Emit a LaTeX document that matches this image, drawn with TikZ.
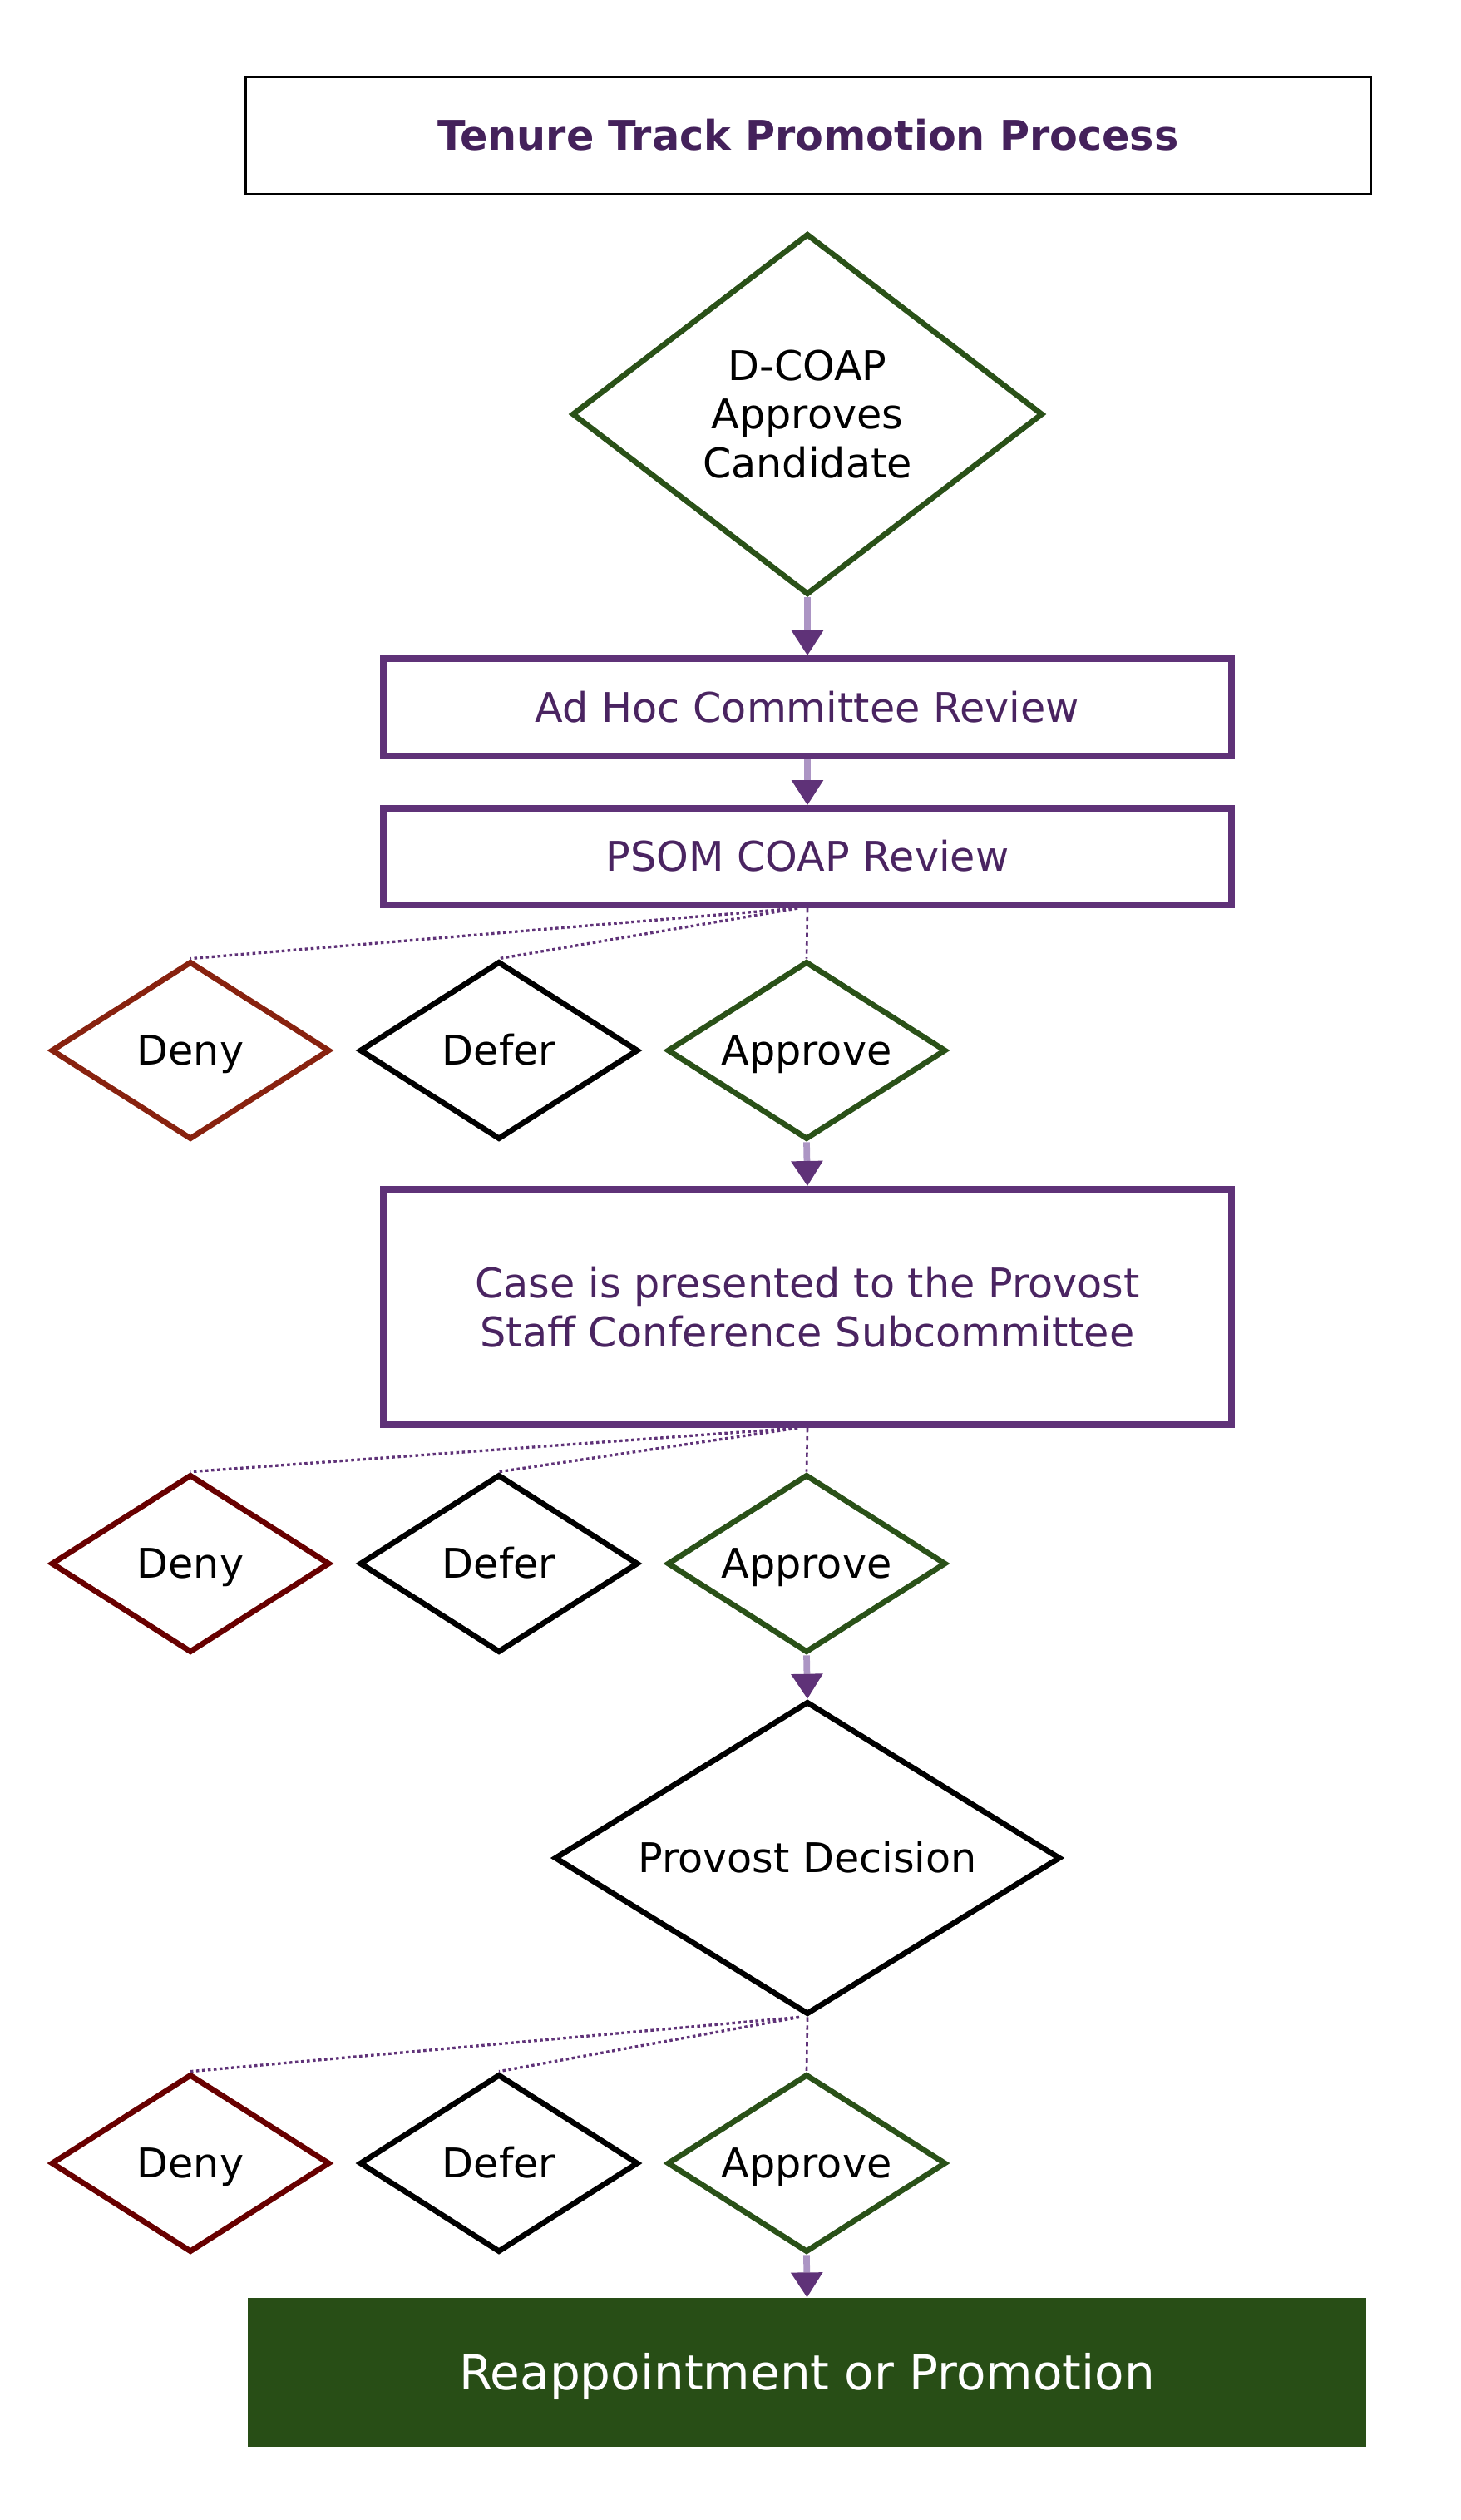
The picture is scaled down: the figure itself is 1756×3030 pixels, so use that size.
\documentclass[tikz,border=0pt]{standalone}
\usepackage{fontspec}
\setmainfont{DejaVu Sans}
\usetikzlibrary{shapes.geometric,arrows.meta,calc}
\definecolor{pur}{HTML}{5F3278}
\definecolor{purtext}{HTML}{4A2461}
\definecolor{titlepur}{HTML}{44215B}
\definecolor{purlight}{HTML}{AC95C4}
\definecolor{grn}{HTML}{2A5118}
\definecolor{grnfill}{HTML}{284E16}
\definecolor{rust}{HTML}{88220F}
\definecolor{darkmaroon}{HTML}{680000}
\begin{document}
\begin{tikzpicture}[x=0.01cm,y=-0.01cm,
  every node/.style={font=\fontsize{14pt}{16.6pt}\selectfont, align=center},
  oneline/.style={text height=10.2pt, text depth=0pt},
  dia/.style={diamond, draw, line width=1.9pt, inner sep=0pt, aspect=1.5, fill=white},
  smalldia/.style={dia, oneline, minimum width=3.35cm, minimum height=2.14cm},
  pbox/.style={draw=pur, line width=2.3pt, minimum width=10.2cm, text=purtext, inner sep=0pt},
  flow/.style={draw=purlight, line width=2.2pt, -{Triangle[width=11pt,length=8.5pt,fill=pur,color=pur,line width=0pt]}},
  fan/.style={draw=pur, line width=0.95pt, dash pattern=on 1pt off 1pt},
  fanv/.style={draw=pur, line width=0.75pt, dash pattern=on 1.5pt off 1.3pt},
]
\useasboundingbox (0,0) rectangle (1756,3030);

\node[draw=black, line width=1pt, minimum width=13.52cm, minimum height=1.41cm, inner sep=0pt, oneline,
      text=titlepur, font=\bfseries\fontsize{14pt}{16.6pt}\selectfont] (title) at (972,163) {Tenure Track Promotion Process};

\node[dia, draw=grn, minimum width=5.66cm, minimum height=4.34cm] (dcoap) at (971,498) {D-COAP\\Approves\\Candidate};
\node[pbox, oneline, minimum height=1.17cm] (adhoc) at (971,850.5) {Ad Hoc Committee Review};
\node[pbox, oneline, minimum height=1.16cm] (psom) at (971,1030) {PSOM COAP Review};

\node[smalldia, draw=rust] (deny1) at (229,1263) {Deny};
\node[smalldia, draw=black] (defer1) at (600,1263) {Defer};
\node[smalldia, draw=grn] (appr1) at (970,1263) {Approve};

\node[pbox, minimum height=2.83cm] (case) at (971,1571.5) {Case is presented to the Provost\\Staff Conference Subcommittee};

\node[smalldia, draw=darkmaroon] (deny2) at (229,1880) {Deny};
\node[smalldia, draw=black] (defer2) at (600,1880) {Defer};
\node[smalldia, draw=grn] (appr2) at (970,1880) {Approve};

\node[dia, oneline, draw=black, minimum width=6.08cm, minimum height=3.76cm] (prov) at (971,2234) {Provost Decision};

\node[smalldia, draw=darkmaroon] (deny3) at (229,2601) {Deny};
\node[smalldia, draw=black] (defer3) at (600,2601) {Defer};
\node[smalldia, draw=grn] (appr3) at (970,2601) {Approve};

\node[fill=grnfill, minimum width=13.45cm, minimum height=1.79cm, inner sep=0pt, text=white,
      text height=12pt, text depth=0pt,
      font=\fontsize{16.5pt}{19pt}\selectfont] (final) at (970.5,2852.5) {Reappointment or Promotion};

% main flow
\draw[flow] (dcoap.south) -- (adhoc.north);
\draw[flow] (adhoc.south) -- (psom.north);
\draw[flow] (appr1.south) -- (case.north);
\draw[flow] (appr2.south) -- (prov.north);
\draw[flow] (appr3.south) -- (final.north);

% fans
\coordinate (f1) at ($(psom.south)+(-12,0)$);
\draw[fan] (f1) -- (deny1.north);
\draw[fan] (f1) -- (defer1.north);
\draw[fanv] (psom.south) -- (appr1.north);

\coordinate (f2) at ($(case.south)+(-12,0)$);
\draw[fan] (f2) -- (deny2.north);
\draw[fan] (f2) -- (defer2.north);
\draw[fanv] (case.south) -- (appr2.north);

\coordinate (f3) at ($(prov.south)+(-10,0)$);
\draw[fan] (f3) -- (deny3.north);
\draw[fan] (f3) -- (defer3.north);
\draw[fanv] (prov.south) -- (appr3.north);
\end{tikzpicture}
\end{document}
